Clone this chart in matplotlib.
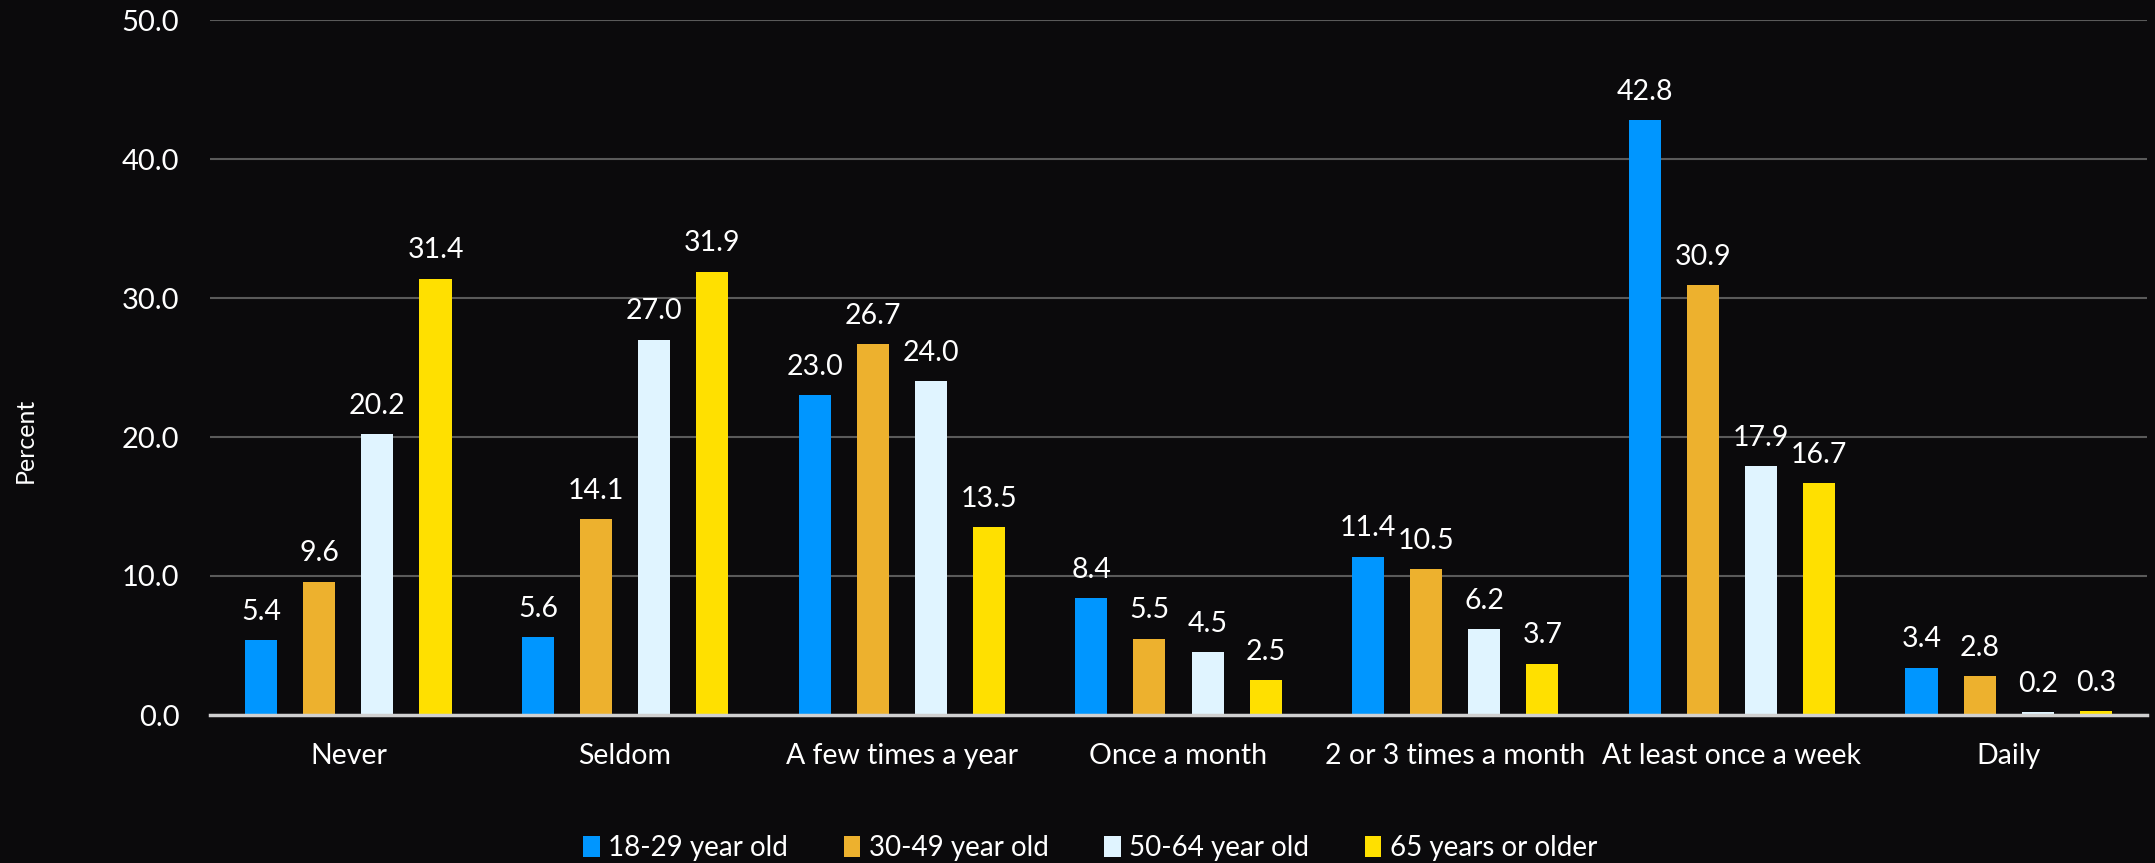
import matplotlib
matplotlib.use("Agg")
import matplotlib.pyplot as plt
import numpy as np

categories = ["Never", "Seldom", "A few times a year", "Once a month",
              "2 or 3 times a month", "At least once a week", "Daily"]
series_names = ["18-29 year old", "30-49 year old", "50-64 year old", "65 years or older"]
age_18_29 = [5.4, 5.6, 23.0, 8.4, 11.4, 42.8, 3.4]
age_30_49 = [9.6, 14.1, 26.7, 5.5, 10.5, 30.9, 2.8]
age_50_64 = [20.2, 27.0, 24.0, 4.5, 6.2, 17.9, 0.2]
age_65_up = [31.4, 31.9, 13.5, 2.5, 3.7, 16.7, 0.3]
colors = ["#0096FF", "#EDB12E", "#E0F4FF", "#FFE000"]
y_ticks = [0, 10, 20, 30, 40, 50]

plt.rcParams['font.family'] = ['Lato', 'DejaVu Sans']

bg = "#0b0a0c"
fig = plt.figure(figsize=(21.55, 8.63), dpi=100, facecolor=bg)
ax = fig.add_axes([210/2155, 1-715/863, (2147-210)/2155, (715-20)/863])
ax.set_facecolor(bg)

x = np.arange(len(categories))
step = 0.21
width = 0.116
all_series = [age_18_29, age_30_49, age_50_64, age_65_up]
for i, (vals, name, c) in enumerate(zip(all_series, series_names, colors)):
    pos = x + (i - 1.5) * step
    bars = ax.bar(pos, vals, width=width, color=c, label=name, zorder=3)
    for b, v in zip(bars, vals):
        ax.annotate(f"{v:.1f}", (b.get_x() + b.get_width()/2, v),
                    xytext=(0, 11), textcoords="offset points",
                    ha="center", va="bottom", color="white", fontsize=20.5)

ax.set_xlim(-0.5, len(categories) - 0.5)
ax.set_ylim(0, 50)
ax.set_yticks(y_ticks)
ax.set_yticklabels([f"{t:.1f}" for t in y_ticks])
ax.set_xticks(x)
ax.set_xticklabels(categories)
ax.tick_params(axis="y", length=0, pad=22, colors="white", labelsize=21)
ax.tick_params(axis="x", length=0, pad=20, colors="white", labelsize=20.5)
ax.grid(axis="y", color="#5a5a5a", linewidth=1.5, zorder=0)
ax.set_axisbelow(True)
for s in ["top", "right", "left"]:
    ax.spines[s].set_visible(False)
ax.spines["bottom"].set_color("#d0d0d0")
ax.spines["bottom"].set_linewidth(2.5)
ax.spines["bottom"].set_zorder(4)

fig.text(25/2155, 1-440/863, "Percent", rotation=90, color="white",
         fontsize=18, ha="center", va="center")

leg = fig.legend(loc="center", bbox_to_anchor=(1090/2155, 1-848/863), ncol=4,
                 frameon=False, fontsize=20, handlelength=0.6, handleheight=0.8,
                 handletextpad=0.3, columnspacing=2.0)
for t in leg.get_texts():
    t.set_color("white")

fig.savefig("out.png", dpi=100, facecolor=bg)
